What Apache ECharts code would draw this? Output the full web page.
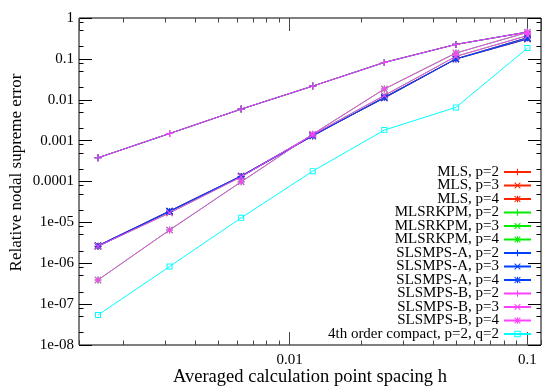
<!DOCTYPE html>
<html><head><meta charset="utf-8">
<script src="https://cdn.jsdelivr.net/npm/echarts@6/dist/echarts.min.js"></script>
<style>html,body{margin:0;padding:0;background:#fff}#c{width:543px;height:392px}</style>
</head><body><div id="c"></div>
<script>
// ---- data ----
const h = [0.0015625, 0.003125, 0.00625, 0.0125, 0.025, 0.05, 0.1];
const mlsP2 = [3.8e-4, 1.49e-3, 5.9e-3, 0.0216, 0.0818, 0.226, 0.454];
const mlsP3 = [2.7e-6, 1.9e-5, 1.37e-4, 1.35e-3, 0.0110, 0.099, 0.306];
const mlsP4 = [2.6e-6, 1.85e-5, 1.32e-4, 1.30e-3, 0.0115, 0.100, 0.330];
const rkP2 = [3.8e-4, 1.49e-3, 5.9e-3, 0.0216, 0.0818, 0.226, 0.454];
const rkP3 = [2.6e-6, 1.7e-5, 1.30e-4, 1.40e-3, 0.0127, 0.115, 0.370];
const rkP4 = [3.9e-7, 6.5e-6, 9.8e-5, 1.44e-3, 0.0183, 0.139, 0.445];
const saP2 = [3.8e-4, 1.49e-3, 5.9e-3, 0.0216, 0.0818, 0.226, 0.454];
const saP3 = [2.7e-6, 1.9e-5, 1.37e-4, 1.35e-3, 0.0110, 0.099, 0.306];
const saP4 = [2.6e-6, 1.85e-5, 1.32e-4, 1.30e-3, 0.0115, 0.100, 0.330];
const sbP2 = [3.8e-4, 1.49e-3, 5.9e-3, 0.0216, 0.0818, 0.226, 0.454];
const sbP3 = [2.6e-6, 1.7e-5, 1.30e-4, 1.40e-3, 0.0127, 0.115, 0.370];
const sbP4 = [3.9e-7, 6.5e-6, 9.8e-5, 1.44e-3, 0.0183, 0.139, 0.445];
const compact = [5.4e-8, 8.3e-7, 1.29e-5, 1.79e-4, 1.81e-3, 6.5e-3, 0.184];

const seriesNames = ['MLS, p=2','MLS, p=3','MLS, p=4','MLSRKPM, p=2','MLSRKPM, p=3','MLSRKPM, p=4',
  'SLSMPS-A, p=2','SLSMPS-A, p=3','SLSMPS-A, p=4','SLSMPS-B, p=2','SLSMPS-B, p=3','SLSMPS-B, p=4',
  '4th order compact, p=2, q=2'];

const xTickValues = [0.01, 0.1];
const xTickLabels = ['0.01', '0.1'];
const yTickValues = [1, 0.1, 0.01, 0.001, 1e-4, 1e-5, 1e-6, 1e-7, 1e-8];
const yTickLabels = ['1','0.1','0.01','0.001','0.0001','1e-05','1e-06','1e-07','1e-08'];
// minor ticks sit at these multiples of each power of ten
const xMinorFactors = [2, 3, 4, 5, 6, 7, 8, 9];
const yMinorFactors = [2, 5, 8];

const X_MIN = 0.0013, X_MAX = 0.114, Y_MIN = 1e-8, Y_MAX = 1;
const FONT = 'Liberation Serif';

// ---- symbols ----
const PLUS = 'path://M4.2,0H5.8V10H4.2ZM0,4.2H10V5.8H0Z';
const CROSS = 'path://M0,1.1L1.1,0L10,8.9L8.9,10ZM8.9,0L10,1.1L1.1,10L0,8.9Z';
const STAR = 'path://M4.2,0H5.8V10H4.2ZM0,4.2H10V5.8H0ZM0,1.1L1.1,0L10,8.9L8.9,10ZM8.9,0L10,1.1L1.1,10L0,8.9Z';
const SQUARE = 'path://M0,0H10V10H0ZM1.6,1.6V8.4H8.4V1.6Z';

const RED = '#ff2200', GREEN = '#00ee00', BLUE = '#0040ff', MAG = '#ff40ff', CYAN = '#00ffff';

function lineSeries(name, vals, color, symbol, size) {
  return {
    name, type: 'line', data: h.map((x, i) => [x, vals[i]]),
    symbol, symbolSize: size || 7, showSymbol: true,
    lineStyle: { color, width: 1 }, itemStyle: { color },
    emphasis: { disabled: true }, animation: false, z: 3
  };
}

function fmtLookup(values, labels) {
  return function (v) {
    for (let i = 0; i < values.length; i++) {
      if (Math.abs(Math.log10(v) - Math.log10(values[i])) < 1e-6) return labels[i];
    }
    return '';
  };
}

const MAJ = 13, MINL = 4.5;
const X_TICK = '#444', Y_TICK = '#000';

// tick-only log axis sharing the grid; a range divided by k puts its decade ticks at k*10^n of the main scale
function tickAxis(pos, min, max, len, color, splitNumber, extra) {
  return Object.assign({
    type: 'log', gridIndex: 0, position: pos, min, max, splitNumber, offset: 0, silent: true,
    axisLine: { show: false }, axisLabel: { show: false }, splitLine: { show: false }, minorTick: { show: false },
    axisTick: { show: true, inside: true, length: len, lineStyle: { color, width: 1 } },
    axisPointer: { show: false }
  }, extra || {});
}

const xAxes = [
  tickAxis('bottom', X_MIN, X_MAX, MAJ, X_TICK, 5, {
    axisLabel: { show: true, formatter: fmtLookup(xTickValues, xTickLabels), fontFamily: FONT, fontSize: 15, color: '#000',
                 margin: 8, showMinLabel: false, showMaxLabel: false },
    name: 'Averaged calculation point spacing h', nameLocation: 'middle', nameGap: 23, nameMoveOverlap: false,
    nameTextStyle: { fontFamily: FONT, fontSize: 18.5, color: '#000' }
  }),
  tickAxis('top', X_MIN, X_MAX, MAJ, X_TICK, 5)
];
xMinorFactors.forEach(k => {
  xAxes.push(tickAxis('bottom', X_MIN / k, X_MAX / k, MINL, X_TICK, 5));
  xAxes.push(tickAxis('top', X_MIN / k, X_MAX / k, MINL, X_TICK, 5));
});

const yAxes = [
  tickAxis('left', Y_MIN, Y_MAX, MAJ, Y_TICK, 8, {
    axisLabel: { show: true, formatter: fmtLookup(yTickValues, yTickLabels), fontFamily: FONT, fontSize: 15, color: '#000', margin: 5 }
  }),
  tickAxis('right', Y_MIN, Y_MAX, MAJ, Y_TICK, 8)
];
yMinorFactors.forEach(k => {
  yAxes.push(tickAxis('left', Y_MIN / k, Y_MAX / k, MINL, Y_TICK, 8));
  yAxes.push(tickAxis('right', Y_MIN / k, Y_MAX / k, MINL, Y_TICK, 8));
});

const option = {
  backgroundColor: '#fff',
  animation: false,
  grid: { left: 79, right: 2, top: 18, bottom: 47, show: true, borderColor: '#000', borderWidth: 1,
          containLabel: false, outerBoundsMode: 'none' },
  xAxis: xAxes,
  yAxis: yAxes,
  legend: {
    data: seriesNames, orient: 'vertical', right: 11, top: 164.5, align: 'right', padding: 0,
    itemWidth: 27, itemHeight: 8, itemGap: -1.5, selectedMode: false,
    textStyle: { fontFamily: FONT, fontSize: 15, color: '#000' }
  },
  graphic: [{ type: 'text', silent: true, x: 16.5, y: 172.5, rotation: Math.PI / 2,
    style: { text: 'Relative nodal supreme error', font: '17px "Liberation Serif"', fill: '#000', align: 'center', verticalAlign: 'middle' } }],
  series: [
    lineSeries(seriesNames[0], mlsP2, RED, PLUS),
    lineSeries(seriesNames[1], mlsP3, RED, CROSS),
    lineSeries(seriesNames[2], mlsP4, RED, STAR),
    lineSeries(seriesNames[3], rkP2, GREEN, PLUS),
    lineSeries(seriesNames[4], rkP3, GREEN, CROSS),
    lineSeries(seriesNames[5], rkP4, GREEN, STAR),
    lineSeries(seriesNames[6], saP2, BLUE, PLUS),
    lineSeries(seriesNames[7], saP3, BLUE, CROSS),
    lineSeries(seriesNames[8], saP4, BLUE, STAR),
    lineSeries(seriesNames[9], sbP2, MAG, PLUS),
    lineSeries(seriesNames[10], sbP3, MAG, CROSS),
    lineSeries(seriesNames[11], sbP4, MAG, STAR),
    lineSeries(seriesNames[12], compact, CYAN, SQUARE, 6)
  ]
};

const chart = echarts.init(document.getElementById('c'), null, { renderer: 'canvas' });
chart.setOption(option);
</script>
</body></html>
